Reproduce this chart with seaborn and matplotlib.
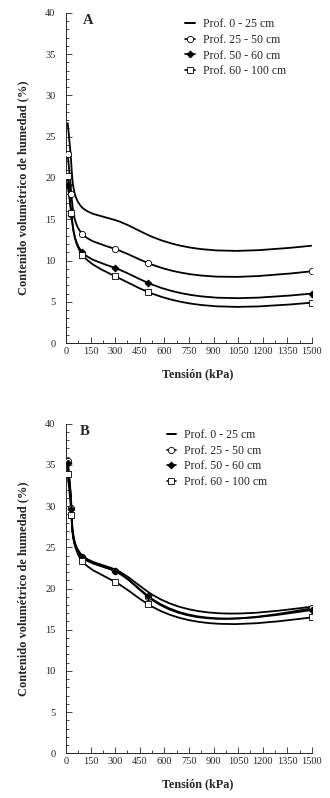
import numpy as np
import pandas as pd
import matplotlib
matplotlib.use("Agg")
import matplotlib.pyplot as plt
from matplotlib.path import Path
from matplotlib.patches import PathPatch
from matplotlib.lines import Line2D
from matplotlib.ticker import MultipleLocator
import seaborn as sns

# Tension steps (kPa)
tension = [10, 33, 100, 300, 500, 1500]
depths = ["Prof. 0 - 25 cm", "Prof. 25 - 50 cm", "Prof. 50 - 60 cm", "Prof. 60 - 100 cm"]

# Panel A - volumetric water content (%)
a_0_25 = [26.7, 21.5, 16.4, 14.9, 13.1, 11.8]
a_25_50 = [22.9, 18.0, 13.2, 11.4, 9.7, 8.7]
a_50_60 = [19.2, 15.5, 11.0, 9.1, 7.3, 6.0]
a_60_100 = [20.2, 15.7, 10.7, 8.1, 6.2, 4.9]

# Panel B - volumetric water content (%)
b_0_25 = [35.0, 29.5, 24.0, 22.3, 19.6, 17.8]
b_25_50 = [35.5, 29.8, 23.8, 22.1, 19.0, 17.6]
b_50_60 = [35.2, 29.6, 23.8, 22.1, 19.1, 17.4]
b_60_100 = [33.9, 28.9, 23.3, 20.8, 18.1, 16.5]

markers = [None, "o", "D", "s"]
filled = [True, False, True, False]
msizes = [5, 4.5, 3.5, 4.5]


def natural_slopes(t, v):
    # first derivatives at the knots of a natural cubic spline v(t)
    n = len(t)
    h = np.diff(t)
    A = np.zeros((n, n))
    r = np.zeros(n)
    A[0, 0] = A[-1, -1] = 1
    for i in range(1, n - 1):
        A[i, i - 1] = h[i - 1]
        A[i, i] = 2 * (h[i - 1] + h[i])
        A[i, i + 1] = h[i]
        r[i] = 6 * ((v[i + 1] - v[i]) / h[i] - (v[i] - v[i - 1]) / h[i - 1])
    M = np.linalg.solve(A, r)
    d = np.zeros(n)
    for i in range(n - 1):
        d[i] = (v[i + 1] - v[i]) / h[i] - h[i] * (2 * M[i] + M[i + 1]) / 6
    d[-1] = (v[-1] - v[-2]) / h[-1] + h[-1] * (M[-2] + 2 * M[-1]) / 6
    return d


def smooth_path(x, y):
    # parametric spline (chord length on screen scale), drawn as bezier segments
    x = np.asarray(x, float)
    y = np.asarray(y, float)
    xs, ys = x / 1500 * 246, y * 8.23
    t = np.concatenate([[0], np.cumsum(np.hypot(np.diff(xs), np.diff(ys)))])
    dx, dy = natural_slopes(t, x), natural_slopes(t, y)
    verts = [(x[0], y[0])]
    codes = [Path.MOVETO]
    for i in range(len(x) - 1):
        h = (t[i + 1] - t[i]) / 3
        verts += [(x[i] + dx[i] * h, y[i] + dy[i] * h),
                  (x[i + 1] - dx[i + 1] * h, y[i + 1] - dy[i + 1] * h),
                  (x[i + 1], y[i + 1])]
        codes += [Path.CURVE4] * 3
    return Path(verts, codes)


sns.set_style("ticks")
plt.rcParams["font.family"] = ["Liberation Serif", "DejaVu Serif"]

fig = plt.figure(figsize=(3.30, 7.98), dpi=100)
ax_a = fig.add_axes([0.200, 0.570, 0.745, 0.414])
ax_b = fig.add_axes([0.200, 0.056, 0.745, 0.413])

panels = [
    (ax_a, "A", [a_0_25, a_25_50, a_50_60, a_60_100], (0.475, 0.99), (0.068, 0.997), 0.47),
    (ax_b, "B", [b_0_25, b_25_50, b_50_60, b_60_100], (0.40, 0.99), (0.057, 0.995), 0.5),
]

for ax, letter, series, leg_pos, let_pos, ylab_y in panels:
    for k, vals in enumerate(series):
        ax.add_patch(PathPatch(smooth_path(tension, vals), facecolor="none",
                               edgecolor="black", lw=1.3, zorder=2))
        if markers[k] is None:
            continue
        df = pd.DataFrame({"t": tension, "w": vals})
        sns.scatterplot(data=df, x="t", y="w", marker=markers[k], s=msizes[k] ** 2,
                        facecolor="black" if filled[k] else "white",
                        edgecolor="black", linewidth=0.6, ax=ax, zorder=3)

    ax.set_xlim(0, 1500)
    ax.set_ylim(0, 40)
    ax.xaxis.set_major_locator(MultipleLocator(150))
    ax.xaxis.set_minor_locator(MultipleLocator(75))
    ax.yaxis.set_major_locator(MultipleLocator(5))
    ax.yaxis.set_minor_locator(MultipleLocator(1))
    ax.tick_params(which="both", direction="in", labelsize=7.5, width=0.6)
    ax.tick_params(which="major", length=4)
    ax.tick_params(which="minor", length=2.5)
    ax.tick_params(axis="x", pad=3)
    ax.tick_params(axis="y", pad=7.5)
    for sp in ["top", "right"]:
        ax.spines[sp].set_visible(False)
    for sp in ["left", "bottom"]:
        ax.spines[sp].set_linewidth(0.7)
    ax.set_xlabel("Tensión (kPa)", fontsize=8.7, fontweight="bold")
    ax.set_ylabel("Contenido volumétrico de humedad (%)", fontsize=9,
                  fontweight="bold")
    ax.xaxis.set_label_coords(0.535, -0.076)
    ax.yaxis.set_label_coords(-0.15, ylab_y)
    ax.text(let_pos[0], let_pos[1], letter, transform=ax.transAxes, fontsize=10.5,
            fontweight="bold", va="top", ha="left")

    handles = []
    for k in range(4):
        if markers[k] is None:
            handles.append(Line2D([], [], color="black", lw=1.4))
        else:
            handles.append(Line2D([], [], color="black", lw=1.2, marker=markers[k],
                                  markersize=msizes[k],
                                  markerfacecolor="black" if filled[k] else "white",
                                  markeredgewidth=0.6))
    ax.legend(handles, depths, loc="upper left", bbox_to_anchor=leg_pos,
              frameon=False, fontsize=8.5, handlelength=0.8, handletextpad=0.7,
              labelspacing=0.3, borderaxespad=0, borderpad=0.2)

fig.savefig("out.png", dpi=100)
